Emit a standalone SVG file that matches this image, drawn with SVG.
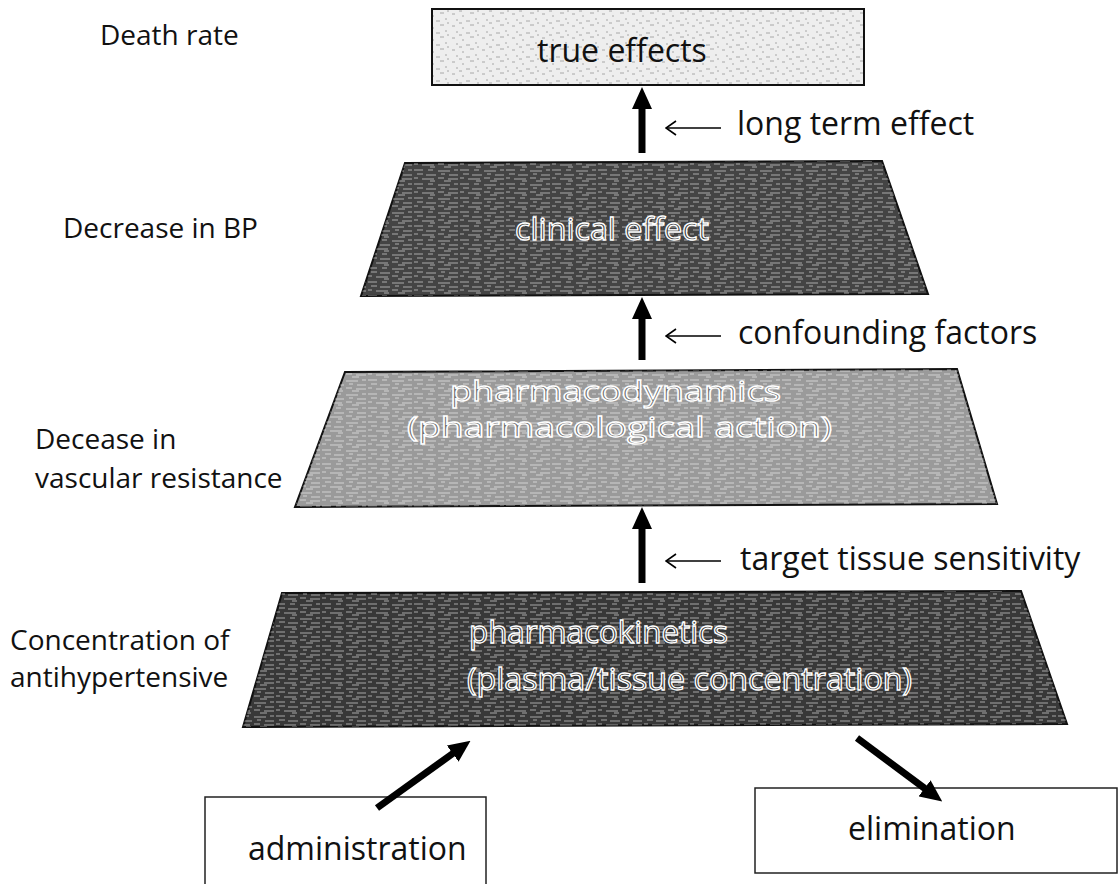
<svg xmlns="http://www.w3.org/2000/svg" width="1119" height="884" viewBox="0 0 1119 884">
<style>
.lbl{font-family:"Open Sans","Liberation Sans",sans-serif;fill:#111}
.l28{font-size:28px}
.l32{font-size:32px}
.shape{stroke:#111;stroke-width:2}
.in{font-family:"Open Sans","Liberation Sans",sans-serif;stroke:#fff;stroke-width:1.3;paint-order:fill}
.thick{stroke:#000;stroke-width:7;fill:none}
.thin{stroke:#000;stroke-width:1.6;fill:none}
.box{fill:#fff;stroke:#222;stroke-width:1.5}
</style>
<defs>
<marker id="head" markerUnits="userSpaceOnUse" markerWidth="22" markerHeight="20" viewBox="0 0 22 20" refX="1" refY="10" orient="auto">
<path d="M0,0 L22,10 L0,20 z" fill="#000"/>
</marker>
<marker id="open" markerUnits="userSpaceOnUse" markerWidth="12" markerHeight="16" viewBox="0 0 12 16" refX="11" refY="8" orient="auto">
<path d="M1,1 L11,8 L1,15" fill="none" stroke="#000" stroke-width="1.6"/>
</marker>
<pattern id="tex" width="46" height="14" patternUnits="userSpaceOnUse">
<path d="M0,2 h9 M14,2 h5 M24,3 h12 M40,2 h4 M3,6 h6 M12,7 h10 M27,6 h4 M35,7 h9 M0,10 h4 M8,11 h12 M24,10 h6 M34,11 h10 M16,13 h5 M30,13 h7" stroke="#fff" stroke-width="1" opacity="0.55"/>
</pattern>
<pattern id="dots" width="30" height="12" patternUnits="userSpaceOnUse">
<path d="M2,2 h3 M12,4 h2 M20,1 h4 M6,8 h2 M16,9 h4 M25,7 h2 M9,11 h3 M27,11 h2" stroke="#888" stroke-width="1" opacity="0.7"/>
</pattern>
</defs>

<g id="true-effects">
<rect x="432" y="9" width="432" height="76" fill="#eeeeee" class="shape"/>
<rect x="433" y="10" width="430" height="74" fill="url(#dots)"/>
<text x="537" y="62" class="lbl l32">true effects</text>
</g>

<g id="clinical-effect">
<polygon points="405,163 882,161 928,294 361,296" fill="#444" class="shape"/>
<polygon points="405,163 882,161 928,294 361,296" fill="url(#tex)"/>
<text x="515" y="240" class="in" font-size="31" fill="#3a3a3a" textLength="194" lengthAdjust="spacingAndGlyphs">clinical effect</text>
</g>

<g id="pharmacodynamics">
<polygon points="345,372 957,369 997,504 295,507" fill="#9a9a9a" class="shape"/>
<polygon points="345,372 957,369 997,504 295,507" fill="url(#tex)"/>
<text x="450" y="401" class="in" font-size="28" fill="#6a6a6a" textLength="331" lengthAdjust="spacingAndGlyphs">pharmacodynamics</text>
<text x="407" y="437" class="in" font-size="28" fill="#6a6a6a" textLength="425" lengthAdjust="spacingAndGlyphs">(pharmacological action)</text>
</g>

<g id="pharmacokinetics">
<polygon points="282,593 1021,591 1067,724 243,727" fill="#383838" class="shape"/>
<polygon points="282,593 1021,591 1067,724 243,727" fill="url(#tex)"/>
<text x="469" y="643" class="in" font-size="31" fill="#333" textLength="259" lengthAdjust="spacingAndGlyphs">pharmacokinetics</text>
<text x="467" y="690" class="in" font-size="31" fill="#333" textLength="445" lengthAdjust="spacingAndGlyphs">(plasma/tissue concentration)</text>
</g>

<g id="administration">
<rect x="205" y="797" width="281" height="95" class="box"/>
<text x="248" y="860" class="lbl l32">administration</text>
</g>

<g id="elimination">
<rect x="755" y="788" width="362" height="85" class="box"/>
<text x="848" y="840" class="lbl l32">elimination</text>
</g>

<g id="left-labels">
<text x="100" y="45" class="lbl l28">Death rate</text>
<text x="63" y="238" class="lbl l28">Decrease in BP</text>
<text x="35" y="449" class="lbl l28">Decease in</text>
<text x="35" y="488" class="lbl l28">vascular resistance</text>
<text x="10" y="650" class="lbl l28">Concentration of</text>
<text x="10" y="687" class="lbl l28">antihypertensive</text>
</g>

<g id="right-labels">
<text x="737" y="135" class="lbl l32">long term effect</text>
<text x="738" y="344" class="lbl l32">confounding factors</text>
<text x="740" y="570" class="lbl l32">target tissue sensitivity</text>
</g>

<g id="connectors">
<line x1="642" y1="153" x2="642" y2="108" class="thick" marker-end="url(#head)"/>
<line x1="642" y1="360" x2="642" y2="318" class="thick" marker-end="url(#head)"/>
<line x1="642" y1="583" x2="642" y2="528" class="thick" marker-end="url(#head)"/>
<line x1="377" y1="808" x2="453.5" y2="753" class="thick" marker-end="url(#head)"/>
<line x1="857" y1="738" x2="925.4" y2="788.9" class="thick" marker-end="url(#head)"/>
<line x1="721" y1="128" x2="666" y2="128" class="thin" marker-end="url(#open)"/>
<line x1="721" y1="336" x2="666" y2="336" class="thin" marker-end="url(#open)"/>
<line x1="721" y1="561" x2="666" y2="561" class="thin" marker-end="url(#open)"/>
</g>
</svg>
